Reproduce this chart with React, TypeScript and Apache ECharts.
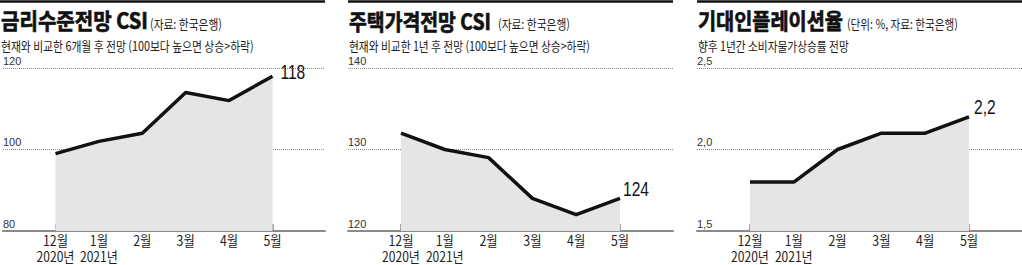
import React, { useEffect, useRef } from "react";
import * as echarts from "echarts";

const months = ["12월", "1월", "2월", "3월", "4월", "5월"];
const years = ["2020년", "2021년", "", "", "", ""];
const rateCSI = [99, 102, 104, 114, 112, 118];
const houseCSI = [132, 130, 129, 124, 122, 124];
const inflation = [1.8, 1.8, 2.0, 2.1, 2.1, 2.2];
const seriesValues = [rateCSI, houseCSI, inflation];

const titles = ["금리수준전망 CSI", "주택가격전망 CSI", "기대인플레이션율"];
const sources = ["(자료: 한국은행)", "(자료: 한국은행)", "(단위: %, 자료: 한국은행)"];
const subtitles = [
  "현재와 비교한 6개월 후 전망 (100보다 높으면 상승>하락)",
  "현재와 비교한 1년 후 전망 (100보다 높으면 상승>하락)",
  "향후 1년간 소비자물가상승률 전망",
];
const yMins = [80, 120, 1.5];
const yMaxs = [120, 140, 2.5];
const yIntervals = [20, 10, 0.5];
const decimals = [0, 0, 1];

// layout (not data)
const panelLeft = [0, 348, 697];
const panelWidth = 325;
const gridTop = 68;
const gridBottom = 231;
const titleW = [147, 142, 145];
const sourceX = [150, 150, 150];
const sourceW = [72, 72, 111];
const subW = [253, 241, 151];
const valueOffsets = [[8, -4.5], [3, -10], [5, -10.5]];

const CJK = '"Noto Sans CJK KR"';
const LAT = '"Liberation Sans", Arial, "Noto Sans CJK KR", sans-serif';

function measure(text: string, font: string): number {
  const c = document.createElement("canvas").getContext("2d")!;
  c.font = font;
  return c.measureText(text).width;
}

function fmt(v: number, d: number) {
  return d === 0 ? String(Math.round(v)) : v.toFixed(d).replace(".", ",");
}

export default function App() {
  const ref = useRef<HTMLDivElement>(null);
  useEffect(() => {
    const chart = echarts.init(ref.current!, null, { renderer: "svg" });
    const grids: any[] = [];
    const xAxes: any[] = [];
    const yAxes: any[] = [];
    const series: any[] = [];
    const graphic: any[] = [];
    const idx = months.map((_, i) => i);

    for (let p = 0; p < 3; p++) {
      const L = panelLeft[p];
      grids.push({ left: L, top: gridTop, width: panelWidth, height: gridBottom - gridTop });
      xAxes.push({
        type: "value",
        gridIndex: p,
        min: -1.21,
        max: 6.21,
        splitLine: { show: false },
        axisLine: { show: true, onZero: false, lineStyle: { color: "#8a8a8a", width: 2 } },
        axisTick: {
          show: true,
          inside: true,
          length: 7,
          customValues: idx,
          lineStyle: { color: "#8a8a8a", width: 1.5 },
        },
        axisLabel: { show: false },
      });
      yAxes.push({
        type: "value",
        gridIndex: p,
        min: yMins[p],
        max: yMaxs[p],
        interval: yIntervals[p],
        axisLine: { show: false },
        axisTick: { show: false },
        splitLine: { show: true, lineStyle: { type: [1, 1], color: "#8a8a8a", width: 1 } },
        axisLabel: {
          inside: true,
          margin: 0,
          align: "left",
          verticalAlign: "bottom",
          padding: [0, 0, 2, 0],
          fontSize: 11,
          color: "#333",
          showMinLabel: true,
          showMaxLabel: true,
          fontFamily: LAT,
          formatter: (v: number) => fmt(v, decimals[p]),
        },
      });
      const vals = seriesValues[p];
      series.push({
        type: "line",
        xAxisIndex: p,
        yAxisIndex: p,
        symbol: "none",
        lineStyle: { color: "#111", width: 3.5 },
        areaStyle: { color: "#e5e5e5", opacity: 1, origin: "start" },
        data: vals.map((v, i) => [i, v]),
      });

      graphic.push({
        type: "line",
        shape: { x1: L, y1: 1.5, x2: L + panelWidth, y2: 1.5 },
        style: { stroke: "#111", lineWidth: 2.5 },
      });
      const tFont = `bold 22px ${CJK}`;
      graphic.push({
        type: "text",
        x: L + 1,
        y: 20,
        scaleX: titleW[p] / measure(titles[p], tFont),
        style: {
          text: titles[p],
          fontSize: 22,
          fontWeight: "bold",
          fontFamily: CJK,
          fill: "#111",
          stroke: "#111",
          lineWidth: 0.7,
          verticalAlign: "middle",
        },
      });
      const sFont = `13px ${CJK}`;
      graphic.push({
        type: "text",
        x: L + sourceX[p],
        y: 23,
        scaleX: sourceW[p] / measure(sources[p], sFont),
        style: {
          text: sources[p],
          fontSize: 13,
          fontFamily: CJK,
          fill: "#222",
          verticalAlign: "middle",
        },
      });
      graphic.push({
        type: "text",
        x: L + 1,
        y: 45,
        scaleX: subW[p] / measure(subtitles[p], sFont),
        style: {
          text: subtitles[p],
          fontSize: 13,
          fontFamily: CJK,
          fill: "#222",
          verticalAlign: "middle",
        },
      });
    }

    chart.setOption({
      animation: false,
      backgroundColor: "#fff",
      grid: grids,
      xAxis: xAxes,
      yAxis: yAxes,
      series,
    });

    // labels placed through the chart's own axis scales
    for (let p = 0; p < 3; p++) {
      for (let i = 0; i < months.length; i++) {
        const x = chart.convertToPixel({ xAxisIndex: p }, i) as number;
        graphic.push({
          type: "text",
          x,
          y: 240.5,
          scaleX: 0.88,
          style: {
            text: months[i],
            fontSize: 14,
            fontFamily: CJK,
            fill: "#222",
            align: "center",
            verticalAlign: "middle",
          },
        });
        if (years[i]) {
          graphic.push({
            type: "text",
            x,
            y: 256,
            scaleX: 0.86,
            style: {
              text: years[i],
              fontSize: 14,
              fontFamily: CJK,
              fill: "#222",
              align: "center",
              verticalAlign: "middle",
            },
          });
        }
      }
      const vals = seriesValues[p];
      const last = vals.length - 1;
      const pt = chart.convertToPixel({ xAxisIndex: p, yAxisIndex: p }, [last, vals[last]]) as number[];
      graphic.push({
        type: "text",
        x: pt[0] + valueOffsets[p][0],
        y: pt[1] + valueOffsets[p][1],
        scaleX: 0.74,
        style: {
          text: fmt(vals[last], decimals[p]),
          fontSize: 21,
          fontFamily: LAT,
          fill: "#111",
          align: "left",
          verticalAlign: "middle",
        },
      });
    }

    chart.setOption({ graphic });
    return () => chart.dispose();
  }, []);
  return (
    <div
      ref={ref}
      style={{ position: "absolute", left: 0, top: 0, width: 1022, height: 265 }}
    />
  );
}
